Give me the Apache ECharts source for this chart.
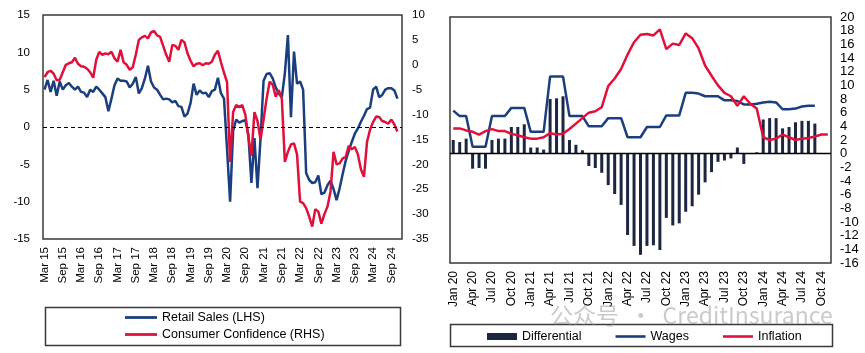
<!DOCTYPE html>
<html><head><meta charset="utf-8">
<script src="https://cdn.jsdelivr.net/npm/echarts@6/dist/echarts.min.js"></script>
<style>html,body{margin:0;padding:0;background:#fff}#c{width:865px;height:353px}</style>
</head><body><div id="c"></div>
<script>
const monthNames = ['Jan','Feb','Mar','Apr','May','Jun','Jul','Aug','Sep','Oct','Nov','Dec'];
function monthLabels(startYear, startMonth, count) {
  const out = [];
  for (let i = 0; i < count; i++) {
    const m = (startMonth + i) % 12;
    const y = startYear + Math.floor((startMonth + i) / 12);
    out.push(monthNames[m] + ' ' + String(y % 100).padStart(2, '0'));
  }
  return out;
}
// Left panel: monthly Mar 2015 .. Dec 2024
const leftCategories = monthLabels(2015, 2, 118);
const retailSales = [
  5.0,6.3,4.7,6.2,4.2,6.1,5.0,5.6,5.9,5.4,
  5.0,5.4,4.7,4.6,4.0,5.0,4.7,5.4,5.0,4.5,
  4.0,2.1,3.8,5.6,6.5,6.2,6.2,6.1,5.3,5.8,
  6.7,4.5,5.2,6.5,8.2,6.1,5.3,5.0,4.3,3.7,
  3.8,3.7,3.3,3.5,2.8,2.7,1.4,1.8,3.2,5.8,
  4.3,4.9,4.5,4.6,4.0,4.8,5.0,6.6,4.5,3.8,
  -3.0,-10.0,-0.5,1.0,0.6,0.8,0.9,-1.0,-7.5,-1.5,
  -8.2,-1.5,6.2,7.1,7.2,6.5,5.3,4.5,4.0,7.2,
  12.3,1.3,10.1,5.8,6.1,5.0,-6.2,-7.1,-7.5,-7.4,
  -6.5,-9.0,-8.8,-7.8,-7.2,-8.3,-9.8,-8.2,-6.3,-4.5,
  -3.2,-2.0,-0.9,-0.2,0.7,1.5,2.4,2.6,5.0,5.4,
  4.0,4.3,5.0,5.2,5.2,4.9,3.8,null
];
const consumerConfidence = [
  -2.5,-1.5,-1.2,-1.8,-3.1,-3.0,-1.5,0.0,0.3,0.5,
  1.4,0.2,-0.3,-0.4,-0.8,-1.5,-2.6,1.0,2.6,2.0,
  2.3,2.1,2.6,1.3,0.6,3.0,0.5,0.0,-1.0,-0.5,
  2.0,5.0,5.5,5.8,5.3,6.5,6.8,5.9,5.6,3.8,
  2.0,0.6,4.0,3.8,3.0,5.0,4.5,2.3,0.8,-0.3,
  0.2,0.3,-0.1,0.3,0.2,0.6,2.0,2.8,0.5,-1.6,
  -3.5,-19.5,-9.5,-8.1,-8.5,-8.1,-10.0,-14.5,-18.3,-9.5,
  -11.3,-15.0,-11.0,-6.8,-3.4,-4.0,-6.4,-5.1,-6.8,-19.5,
  -17.5,-16.0,-15.8,-18.0,-27.5,-27.8,-28.8,-30.5,-32.5,-29.0,
  -29.5,-31.9,-30.0,-28.5,-25.5,-17.5,-20.0,-19.8,-18.8,-18.5,
  -16.3,-17.0,-16.5,-18.0,-21.0,-22.5,-15.5,-13.0,-11.5,-10.4,
  -10.5,-11.3,-11.5,-11.8,-11.0,-12.0,-13.4,null
];
// Right panel: monthly Jan 2020 .. Nov 2024
const rightCategories = monthLabels(2020, 0, 59);
const differential = [
  2.0,1.7,2.2,-2.2,-2.1,-2.2,2.0,2.2,2.2,3.9,
  3.9,4.3,0.9,0.9,0.6,8.0,8.1,8.4,2.0,1.3,
  0.5,-1.8,-2.1,-2.8,-4.6,-5.9,-7.5,-11.9,-13.5,-14.8,
  -13.5,-13.4,-14.1,-9.4,-10.5,-10.2,-8.5,-7.7,-6.0,-4.2,
  -2.7,-1.2,-1.0,-0.7,0.9,-1.5,0.0,0.2,5.0,5.2,
  5.2,3.7,3.9,4.6,4.8,4.8,4.4,null,null
];
const wages = [
  6.3,5.5,5.5,1.0,1.0,1.0,5.5,5.5,5.5,6.7,
  6.7,6.7,3.2,3.2,3.2,11.3,11.3,11.3,5.5,5.5,
  5.5,4.0,4.0,4.0,5.2,5.2,5.2,2.4,2.4,2.4,
  3.9,3.9,3.9,5.6,5.6,5.6,8.9,8.9,8.8,8.4,
  8.4,8.4,7.8,7.8,7.7,7.2,7.2,7.3,7.5,7.6,
  7.5,6.5,6.5,6.6,6.9,7.0,7.0,null,null
];
const inflation = [
  3.7,3.7,3.4,3.2,2.8,3.3,3.6,3.3,3.3,2.9,
  2.7,2.4,2.2,2.2,2.4,3.0,2.8,2.9,3.6,4.4,
  5.2,6.0,6.2,6.8,9.9,11.0,12.4,14.5,16.3,17.4,
  17.5,17.3,18.2,15.3,16.1,15.9,17.6,16.9,15.4,12.9,
  11.4,10.0,8.9,8.4,7.0,8.4,7.3,6.6,2.4,2.0,
  2.2,2.8,2.4,2.0,2.2,2.3,2.5,2.8,2.8
];

const BLUE = '#1B3F7E', RED = '#E0103A', NAVY = '#1C2640';
const FONT = 'Liberation Sans, Arial, sans-serif';
const LINE_ICON = 'path://M0,0H30V2.6H0Z';
const chart = echarts.init(document.getElementById('c'), null, {renderer: 'canvas'});
const noSplit = {show: false};
chart.setOption({
  animation: false,
  backgroundColor: '#fff',
  textStyle: {fontFamily: FONT, color: '#000'},
  grid: [
    {left: 43, top: 15, width: 359, height: 224, show: true, borderColor: '#3a3a3a', borderWidth: 1.5, backgroundColor: 'transparent'},
    {left: 450, top: 17, width: 381, height: 246, show: true, borderColor: '#3a3a3a', borderWidth: 1.5, backgroundColor: 'transparent'}
  ],
  xAxis: [
    {type: 'category', gridIndex: 0, data: leftCategories, boundaryGap: true,
     axisLine: {show: false}, axisTick: {show: false}, splitLine: noSplit,
     axisLabel: {interval: 5, rotate: 90, fontSize: 11.5, color: '#000', margin: 8}},
    {type: 'category', gridIndex: 1, data: rightCategories, boundaryGap: true,
     axisLine: {show: false}, axisTick: {show: false}, splitLine: noSplit,
     axisLabel: {interval: 2, rotate: 90, fontSize: 12, color: '#000', margin: 8}}
  ],
  yAxis: [
    {type: 'value', gridIndex: 0, position: 'left', min: -15, max: 15, interval: 5,
     axisLine: {show: false}, axisTick: {show: false}, splitLine: noSplit,
     axisLabel: {fontSize: 11.5, color: '#000', margin: 13}},
    {type: 'value', gridIndex: 0, position: 'right', min: -35, max: 10, interval: 5,
     axisLine: {show: false}, axisTick: {show: false}, splitLine: noSplit,
     axisLabel: {fontSize: 11.5, color: '#000', margin: 10}},
    {type: 'value', gridIndex: 1, position: 'right', min: -16, max: 20, interval: 2,
     axisLine: {show: false}, axisTick: {show: false}, splitLine: noSplit,
     axisLabel: {fontSize: 13, color: '#000', margin: 9}}
  ],
  legend: [
    {data: [{name: 'Retail Sales (LHS)', icon: LINE_ICON}, {name: 'Consumer Confidence (RHS)', icon: LINE_ICON}],
     orient: 'vertical', left: 120, top: 306, itemWidth: 32, itemHeight: 10, itemGap: 4,
     textStyle: {fontSize: 12.5, color: '#000', fontFamily: FONT}},
    {data: [{name: 'Differential', icon: 'rect'}, {name: 'Wages', icon: LINE_ICON}, {name: 'Inflation', icon: LINE_ICON}],
     orient: 'horizontal', left: 482, top: 325, itemWidth: 30, itemHeight: 7, itemGap: 34,
     textStyle: {fontSize: 12.5, color: '#000', fontFamily: FONT}}
  ],
  graphic: [
    {type: 'rect', left: 43, top: 305, shape: {width: 355, height: 38},
     style: {fill: 'none', stroke: '#3a3a3a', lineWidth: 1.5}},
    {type: 'rect', left: 448, top: 322, shape: {width: 382, height: 22},
     style: {fill: 'none', stroke: '#3a3a3a', lineWidth: 1.5}},
    {type: 'text', left: 550, top: 304, z: 100,
     style: {text: '公众号  ·  CreditInsurance', font: '23px "Noto Sans CJK SC", sans-serif', fill: 'rgba(150,150,150,0.5)'}}
  ],
  series: [
    {name: 'Retail Sales (LHS)', type: 'line', xAxisIndex: 0, yAxisIndex: 0, data: retailSales,
     symbol: 'none', lineStyle: {color: BLUE, width: 2.5}, itemStyle: {color: BLUE},
     markLine: {silent: true, symbol: 'none', label: {show: false},
       lineStyle: {color: '#000', type: [4, 3], width: 1.2}, data: [{yAxis: 0}]}},
    {name: 'Consumer Confidence (RHS)', type: 'line', xAxisIndex: 0, yAxisIndex: 1, data: consumerConfidence,
     symbol: 'none', lineStyle: {color: RED, width: 2.5}, itemStyle: {color: RED}},
    {name: 'Differential', type: 'bar', xAxisIndex: 1, yAxisIndex: 2, data: differential,
     barWidth: 3, itemStyle: {color: NAVY},
     markLine: {silent: true, symbol: 'none', label: {show: false},
       lineStyle: {color: '#000', type: 'solid', width: 1.3}, data: [{yAxis: 0}]}},
    {name: 'Wages', type: 'line', xAxisIndex: 1, yAxisIndex: 2, data: wages,
     symbol: 'none', lineStyle: {color: BLUE, width: 2.5}, itemStyle: {color: BLUE}},
    {name: 'Inflation', type: 'line', xAxisIndex: 1, yAxisIndex: 2, data: inflation,
     symbol: 'none', lineStyle: {color: RED, width: 2.5}, itemStyle: {color: RED}}
  ]
});
</script>
</body></html>
